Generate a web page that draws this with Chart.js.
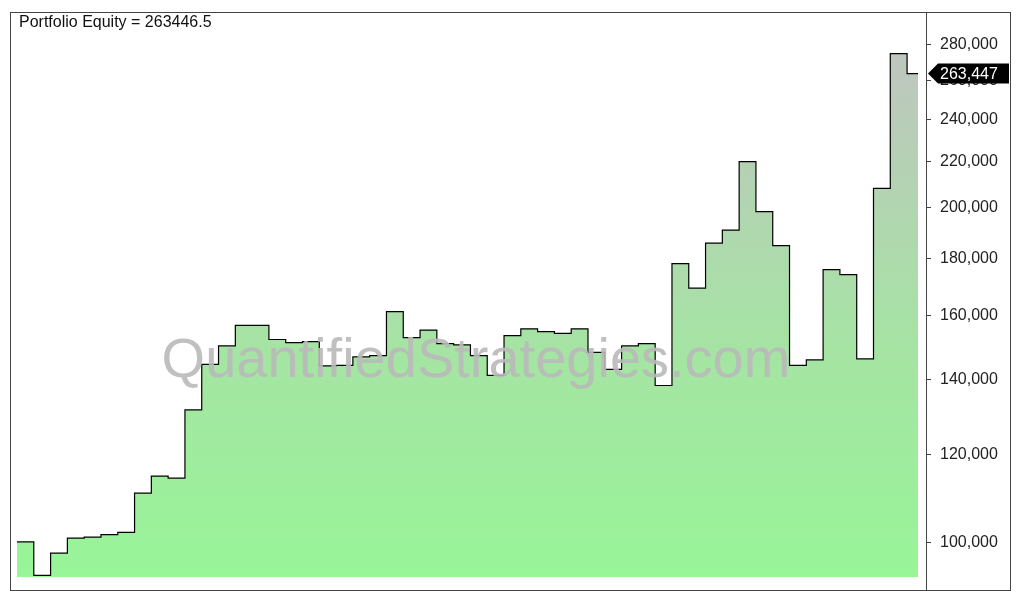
<!DOCTYPE html>
<html><head><meta charset="utf-8">
<script src="https://cdn.jsdelivr.net/npm/chart.js@4/dist/chart.umd.min.js"></script>
<style>html,body{margin:0;padding:0;background:#fff}#w{width:1031px;height:591px}</style>
</head><body><div id="w"><canvas id="c"></canvas></div>
<script>
const equity = [100000,93300,97700,100800,101000,101500,102000,110600,114600,114100,131400,144400,150000,156500,156500,152000,151000,151300,143900,144100,146600,147000,161000,152600,155000,150700,150300,147000,141100,153200,155400,154500,153900,155400,148000,142900,150000,150700,138200,177800,169000,185500,190600,219600,198000,184600,144100,145700,175600,173800,146000,207800,274600,263446.5];
const yTicks = [100000,120000,140000,160000,180000,200000,220000,240000,260000,280000];
const lastValue = 263446.5;
const titleText = "Portfolio Equity = 263446.5";
const xMax = equity.length - 0.35;
const points = equity.map((v,i)=>({x:i,y:v}));
points.push({x:xMax,y:lastValue});

const deco = {
  id:'deco',
  afterDatasetsDraw(ch){
    const c=ch.ctx;c.save();
    c.font='56px "Liberation Sans", Arial';c.fillStyle='rgba(185,185,185,0.9)';c.textAlign='center';c.textBaseline='middle';
    c.fillText('QuantifiedStrategies.com',476,362);c.restore();
  },
  afterDraw(ch){
    const c=ch.ctx;c.save();
    c.strokeStyle='#444';c.lineWidth=1;
    c.strokeRect(10.5,12.5,1000,578);
    c.beginPath();c.moveTo(926.5,12);c.lineTo(926.5,590);c.stroke();
    const ys=ch.scales.y;
    c.font='16px "Liberation Sans", Arial';c.textBaseline='middle';c.textAlign='left';
    yTicks.forEach(t=>{const y=Math.round(ys.getPixelForValue(t))+0.5;c.beginPath();c.moveTo(926,y);c.lineTo(931,y);c.stroke();
      c.fillStyle='#222';c.fillText(t.toLocaleString('en-US'),940,y);});
    c.fillStyle='#111';
    c.fillText(titleText,19,23);
    const y=ys.getPixelForValue(lastValue);
    c.fillStyle='#000';c.beginPath();c.moveTo(928,y);c.lineTo(938,y-10);c.lineTo(1009,y-10);c.lineTo(1009,y+10);c.lineTo(938,y+10);c.closePath();c.fill();
    c.fillStyle='#fff';c.font='16px "Liberation Sans", Arial';c.fillText('263,447',940,y+1);
    c.restore();
  }
};

new Chart(document.getElementById('c'),{
  type:'line',
  data:{datasets:[{data:points,stepped:'before',borderColor:'#000',borderWidth:1.2,pointRadius:0,fill:'start',
    backgroundColor:(ctx)=>{const a=ctx.chart.chartArea;if(!a)return '#9af29a';const g=ctx.chart.ctx.createLinearGradient(0,a.top,0,a.bottom);g.addColorStop(0,'#c2c2c2');g.addColorStop(0.6,'#a5e4a3');g.addColorStop(1,'#98f598');return g;}}]},
  options:{responsive:true,maintainAspectRatio:false,animation:false,
    layout:{padding:{left:17,top:14,bottom:14,right:0}},
    plugins:{legend:{display:false},tooltip:{enabled:false}},
    scales:{
      x:{type:'linear',min:0,max:xMax,display:false},
      y:{type:'logarithmic',position:'right',min:93000,max:298000,
        afterFit(s){s.width=113;},
        grid:{display:false},border:{display:false},
        ticks:{display:false}}
    }},
  plugins:[deco]
});
</script></body></html>
